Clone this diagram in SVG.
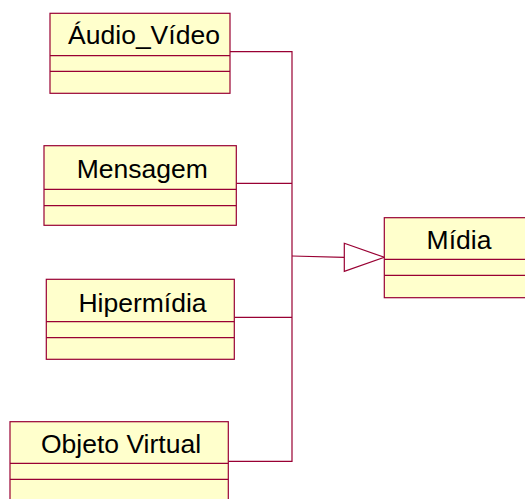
<svg xmlns="http://www.w3.org/2000/svg" width="525" height="499" viewBox="0 0 525 499">
  <style>
    .box { fill: #FFFFCC; stroke: #990033; stroke-width: 1.2; }
    .sep { stroke: #990033; stroke-width: 1.2; fill: none; }
    .name { font-family: "Liberation Sans", Arial, sans-serif; font-size: 26.5px; fill: #000; text-anchor: middle; }
    .conn { stroke: #990033; stroke-width: 1.2; fill: none; }
    .head { fill: #FFFFFF; stroke: #990033; stroke-width: 1.2; }
  </style>
  <rect width="525" height="499" fill="#FFFFFF"/>

  <!-- generalization connectors -->
  <g id="connectors">
    <polyline class="conn" points="230,51.7 292,51.7 292,461.3 228.3,461.3"/>
    <line class="conn" x1="236.3" y1="183.3" x2="292" y2="183.3"/>
    <line class="conn" x1="234.3" y1="317.3" x2="292" y2="317.3"/>
    <line class="conn" x1="292" y1="256" x2="344.3" y2="257.3"/>
    <polygon class="head" points="344.3,243.3 384.3,257.3 344.3,271.3"/>
  </g>

  <g id="audio_video">
    <rect class="box" x="50" y="13.3" width="180" height="80"/>
    <line class="sep" x1="50" y1="55.7" x2="230" y2="55.7"/>
    <line class="sep" x1="50" y1="71.3" x2="230" y2="71.3"/>
    <text class="name" x="144" y="44.3">Áudio_Vídeo</text>
  </g>

  <g id="mensagem">
    <rect class="box" x="44" y="145.7" width="192.3" height="79.6"/>
    <line class="sep" x1="44" y1="189.3" x2="236.3" y2="189.3"/>
    <line class="sep" x1="44" y1="205.7" x2="236.3" y2="205.7"/>
    <text class="name" x="142.2" y="178.3">Mensagem</text>
  </g>

  <g id="hipermidia">
    <rect class="box" x="46.3" y="279.3" width="188" height="80"/>
    <line class="sep" x1="46.3" y1="321.7" x2="234.3" y2="321.7"/>
    <line class="sep" x1="46.3" y1="337.7" x2="234.3" y2="337.7"/>
    <text class="name" x="142.5" y="312.3">Hipermídia</text>
  </g>

  <g id="objeto_virtual">
    <rect class="box" x="10" y="421.7" width="218.3" height="90"/>
    <line class="sep" x1="10" y1="463.3" x2="228.3" y2="463.3"/>
    <line class="sep" x1="10" y1="479.3" x2="228.3" y2="479.3"/>
    <text class="name" x="121" y="453.3">Objeto Virtual</text>
  </g>

  <g id="midia">
    <rect class="box" x="384.3" y="217.7" width="150" height="80"/>
    <line class="sep" x1="384.3" y1="259.3" x2="534.3" y2="259.3"/>
    <line class="sep" x1="384.3" y1="275.3" x2="534.3" y2="275.3"/>
    <text class="name" x="459" y="249.3">Mídia</text>
  </g>
</svg>
